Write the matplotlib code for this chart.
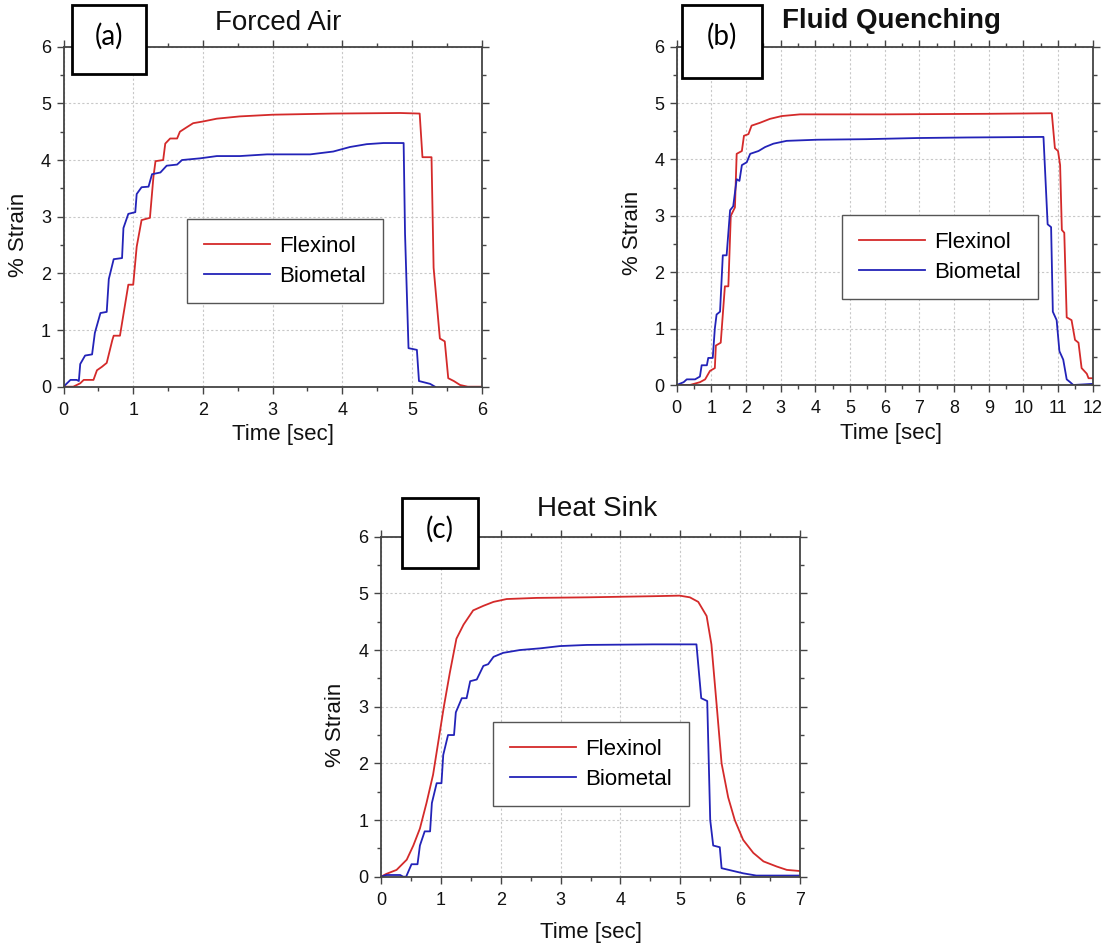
import matplotlib
matplotlib.use("Agg")
import matplotlib.pyplot as plt
from matplotlib.patches import Rectangle
from matplotlib.ticker import MultipleLocator

plt.rcParams['font.family'] = ['Liberation Sans', 'DejaVu Sans']

# ---------------- data ----------------
# (a) Forced Air
a_flex_t = [0, 0.14, 0.24, 0.29, 0.43, 0.48, 0.55, 0.62, 0.70, 0.72, 0.81, 0.93, 1.00, 1.05, 1.12,
            1.24, 1.29, 1.32, 1.43, 1.46, 1.53, 1.63, 1.67, 1.77, 1.86, 2.0, 2.2, 2.53, 3.0, 3.87,
            4.83, 5.11, 5.15, 5.28, 5.31, 5.40, 5.47, 5.52, 5.60, 5.69, 5.80, 6.0]
a_flex_v = [0, 0, 0.06, 0.12, 0.12, 0.29, 0.35, 0.42, 0.82, 0.90, 0.90, 1.80, 1.80, 2.47, 2.94,
            2.98, 3.70, 3.98, 4.00, 4.29, 4.38, 4.38, 4.50, 4.58, 4.65, 4.68, 4.73, 4.77, 4.80, 4.82,
            4.83, 4.82, 4.05, 4.05, 2.10, 0.85, 0.80, 0.15, 0.10, 0.03, 0.0, 0.0]
a_bio_t = [0, 0.10, 0.19, 0.22, 0.24, 0.31, 0.41, 0.45, 0.53, 0.62, 0.65, 0.72, 0.84, 0.86, 0.93,
           1.03, 1.05, 1.12, 1.22, 1.27, 1.39, 1.48, 1.63, 1.70, 1.96, 2.2, 2.53, 2.92, 3.39, 3.54,
           3.87, 4.11, 4.35, 4.59, 4.88, 4.90, 4.95, 5.07, 5.10, 5.26, 5.33]
a_bio_v = [0, 0.12, 0.12, 0.10, 0.40, 0.55, 0.57, 0.95, 1.30, 1.32, 1.90, 2.25, 2.27, 2.80, 3.05,
           3.08, 3.40, 3.52, 3.53, 3.75, 3.78, 3.90, 3.92, 4.00, 4.03, 4.07, 4.07, 4.10, 4.10, 4.10,
           4.15, 4.23, 4.28, 4.30, 4.30, 2.70, 0.68, 0.65, 0.10, 0.05, 0.0]

# (b) Fluid Quenching
b_flex_t = [0, 0.38, 0.67, 0.82, 0.96, 1.10, 1.13, 1.27, 1.39, 1.49, 1.56, 1.68, 1.73, 1.88, 1.94,
            2.07, 2.16, 2.40, 2.69, 3.03, 3.56, 6.0, 9.0, 10.82, 10.91, 11.00, 11.06, 11.11, 11.18,
            11.25, 11.39, 11.49, 11.59, 11.68, 11.83, 11.88, 12.0]
b_flex_v = [0, 0, 0.05, 0.10, 0.25, 0.30, 0.70, 0.75, 1.75, 1.75, 3.00, 3.15, 4.10, 4.15, 4.42,
            4.45, 4.60, 4.65, 4.72, 4.77, 4.80, 4.80, 4.81, 4.82, 4.20, 4.15, 3.90, 2.75, 2.70,
            1.20, 1.15, 0.80, 0.75, 0.30, 0.20, 0.12, 0.12]
b_bio_t = [0, 0.20, 0.29, 0.53, 0.67, 0.72, 0.87, 0.91, 1.04, 1.10, 1.15, 1.25, 1.33, 1.44, 1.54,
           1.63, 1.73, 1.81, 1.88, 2.02, 2.12, 2.36, 2.55, 2.79, 3.17, 4.04, 5.48, 6.92, 8.37, 10.58,
           10.70, 10.80, 10.85, 10.96, 11.04, 11.15, 11.25, 11.35, 11.44, 12.0]
b_bio_v = [0, 0.05, 0.10, 0.10, 0.15, 0.35, 0.35, 0.48, 0.48, 1.00, 1.25, 1.30, 2.30, 2.30, 3.10,
           3.17, 3.65, 3.62, 3.90, 3.95, 4.10, 4.15, 4.22, 4.28, 4.33, 4.35, 4.36, 4.38, 4.39, 4.40,
           2.85, 2.80, 1.30, 1.15, 0.60, 0.45, 0.10, 0.05, 0.0, 0.02]

# (c) Heat Sink
c_flex_t = [0, 0.09, 0.26, 0.43, 0.54, 0.65, 0.76, 0.87, 0.96, 1.05, 1.15, 1.26, 1.38, 1.54, 1.71,
            1.88, 2.10, 2.60, 3.44, 4.55, 4.99, 5.16, 5.30, 5.44, 5.52, 5.61, 5.69, 5.80, 5.91, 6.05,
            6.22, 6.39, 6.61, 6.78, 7.0]
c_flex_v = [0, 0.05, 0.12, 0.30, 0.55, 0.85, 1.30, 1.80, 2.40, 3.00, 3.60, 4.20, 4.45, 4.70, 4.78,
            4.85, 4.90, 4.92, 4.93, 4.95, 4.96, 4.93, 4.85, 4.60, 4.10, 3.00, 2.00, 1.40, 1.00, 0.65,
            0.42, 0.27, 0.18, 0.12, 0.10]
c_bio_t = [0, 0.09, 0.32, 0.37, 0.42, 0.51, 0.61, 0.65, 0.73, 0.82, 0.85, 0.93, 1.01, 1.04, 1.12,
           1.22, 1.25, 1.35, 1.43, 1.49, 1.60, 1.71, 1.79, 1.88, 2.04, 2.32, 2.66, 2.99, 3.44, 4.55,
           5.27, 5.35, 5.45, 5.50, 5.55, 5.66, 5.69, 5.89, 6.05, 6.27, 7.0]
c_bio_v = [0, 0.03, 0.03, 0.0, 0.0, 0.22, 0.22, 0.55, 0.80, 0.80, 1.30, 1.65, 1.65, 2.15, 2.50,
           2.50, 2.90, 3.15, 3.15, 3.45, 3.48, 3.72, 3.75, 3.88, 3.95, 4.00, 4.03, 4.07, 4.09, 4.10,
           4.10, 3.15, 3.10, 1.00, 0.55, 0.52, 0.15, 0.10, 0.06, 0.02, 0.02]

titles = ["Forced Air", "Fluid Quenching", "Heat Sink"]
panel_tags = ["(a)", "(b)", "(c)"]
series_names = ["Flexinol", "Biometal"]
x_max = [6, 12, 7]
y_ticks = [0, 1, 2, 3, 4, 5, 6]

RED = '#d42a2a'
BLUE = '#2323b8'

W, H = 1102, 947
fig = plt.figure(figsize=(W / 100, H / 100), dpi=100)


def px_axes(x0, y0, x1, y1):
    return fig.add_axes([x0 / W, 1 - y1 / H, (x1 - x0) / W, (y1 - y0) / H])


axes_px = [(63.5, 46.7, 481.7, 386.7),
           (676.7, 46.7, 1092.7, 385.0),
           (381.0, 536.7, 800.0, 876.7)]
title_px = [(278, 29.5, False), (891, 28.5, True), (597, 516, False)]
xlabel_px = [(283, 435), (891, 433), (591, 932)]
ylabel_px = [(18, 235), (632, 233), (335, 725)]
legend_px = [(187, 219), (842, 215), (493, 722)]
tag_px = [(72, 5, 146, 74), (682, 5, 762, 78), (402, 498, 478, 568)]

data = [((a_flex_t, a_flex_v), (a_bio_t, a_bio_v)),
        ((b_flex_t, b_flex_v), (b_bio_t, b_bio_v)),
        ((c_flex_t, c_flex_v), (c_bio_t, c_bio_v))]

for i in range(3):
    x0, y0, x1, y1 = axes_px[i]
    ax = px_axes(x0, y0, x1, y1)
    (ft, fv), (bt, bv) = data[i]
    ax.plot(ft, fv, color=RED, lw=1.3, label=series_names[0])
    ax.plot(bt, bv, color=BLUE, lw=1.3, label=series_names[1])
    ax.set_xlim(0, x_max[i])
    ax.set_ylim(0, 6)
    ax.xaxis.set_major_locator(MultipleLocator(1))
    ax.xaxis.set_minor_locator(MultipleLocator(0.5))
    ax.set_yticks(y_ticks)
    ax.yaxis.set_minor_locator(MultipleLocator(0.5))
    ax.tick_params(which='both', direction='out', top=True, right=True,
                   color='#444444', width=1.0)
    ax.tick_params(which='major', length=5, labelsize=13, labelcolor='#111111')
    ax.tick_params(axis='x', which='major', pad=6)
    ax.tick_params(axis='y', which='major', pad=4)
    ax.tick_params(which='minor', length=3)
    for s in ax.spines.values():
        s.set_color('#444444')
        s.set_linewidth(1.3)
    ax.grid(True, which='major', color='#c8c8c8', linestyle=(0, (2, 2)), lw=0.8)
    ax.set_axisbelow(True)

    # axis labels
    ax.set_xlabel("Time [sec]", fontsize=16, color='#111111')
    ax.xaxis.set_label_coords((xlabel_px[i][0] - x0) / (x1 - x0),
                              (y1 - xlabel_px[i][1]) / (y1 - y0))
    ax.xaxis.label.set_va('center')
    ax.set_ylabel("% Strain", fontsize=16, color='#111111')
    ax.yaxis.set_label_coords((ylabel_px[i][0] - x0) / (x1 - x0),
                              (y1 - ylabel_px[i][1]) / (y1 - y0))
    ax.yaxis.label.set_va('center')

    # legend
    lx, ly = legend_px[i]
    leg = ax.legend(loc='upper left',
                    bbox_to_anchor=((lx - x0) / (x1 - x0), (y1 - ly) / (y1 - y0)),
                    borderaxespad=0, fontsize=16, frameon=True, fancybox=False,
                    edgecolor='#555555', framealpha=1, handlelength=3.0,
                    handletextpad=0.4, borderpad=0.75, labelspacing=0.4)
    leg.get_frame().set_linewidth(1.0)
    for line in leg.get_lines():
        line.set_linewidth(1.3)

    # title
    tx, ty, bold = title_px[i]
    fig.text(tx / W, 1 - ty / H, titles[i], ha='center', va='baseline', fontsize=20,
             fontweight='bold' if bold else 'normal', color='#111111')

    # panel tag box
    bx0, by0, bx1, by1 = tag_px[i]
    rect = Rectangle((bx0 / W, 1 - by1 / H), (bx1 - bx0) / W, (by1 - by0) / H,
                     transform=fig.transFigure, facecolor='white', edgecolor='black',
                     lw=2.0, zorder=5)
    fig.add_artist(rect)
    fig.text((bx0 + bx1) / 2 / W, 1 - (by0 + 31) / H, panel_tags[i], ha='center', va='center',
             fontsize=20, family=['Lato', 'DejaVu Sans'], color='black', zorder=6)

fig.savefig("out.png", dpi=100, facecolor='white')
